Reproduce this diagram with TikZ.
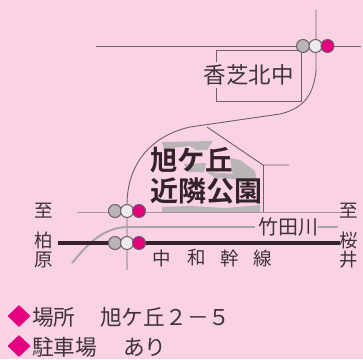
\documentclass[tikz,border=0pt]{standalone}
\usepackage{fontspec}
\setmainfont{Noto Sans CJK JP}
\newfontfamily\jpbold{Noto Sans CJK JP Bold}
\usetikzlibrary{shapes.geometric}
\definecolor{bgpink}{HTML}{F9D2E5}
\definecolor{ink}{HTML}{3F3238}
\definecolor{roadc}{HTML}{6E5F66}
\definecolor{softroad}{HTML}{A8939D}
\definecolor{rail}{HTML}{33222A}
\definecolor{magentaX}{HTML}{E4007F}
\definecolor{parkg}{HTML}{B9B5B7}
\definecolor{river}{HTML}{A9A5A7}
\tikzset{
  road/.style={draw=roadc,line width=0.9pt},
  softr/.style={draw=softroad,line width=1pt},
  lightA/.style={circle,draw=roadc,line width=1pt,fill=#1,minimum size=13pt,inner sep=0pt},
  lbl/.style={text=ink,inner sep=0pt,font=\fontsize{#1}{#1}\selectfont},
  lblb/.style={text=rail,inner sep=0pt,font=\jpbold\fontsize{#1}{#1}\selectfont},
  dia/.style={diamond,fill=magentaX,minimum width=23pt,minimum height=22pt,inner sep=0pt}
}
\begin{document}
\begin{tikzpicture}[x=1pt,y=-1pt]
\useasboundingbox (0,0) rectangle (363,359);
\fill[bgpink] (0,0) rectangle (363,359);
% park area (the parts seen round the lettering)
\fill[parkg] (162,142) -- (213,141) -- (207,150) -- (196,150) -- (190,146) -- (172,148) -- (164,151) -- cycle;
\fill[parkg] (230,158) -- (240,160) -- (255,171) -- (257,182) -- (240,183) -- (232,172) -- cycle;
\fill[parkg] (184,164) -- (206,163) -- (204,172) -- (188,172) -- cycle;
\fill[parkg] (207,172) -- (250,175) -- (256,181) -- (215,178) -- cycle;
\fill[parkg] (162,207) -- (190,206) -- (225,208) -- (260,205) -- (260,212) -- (162,212) -- cycle;
% coordinates
\coordinate (tw) at (96,46);
\coordinate (te) at (361,46);
\coordinate (tn) at (316,10);
\coordinate (bsw) at (127,270);
\coordinate (mw) at (77,212);
\coordinate (me) at (343,212);
\coordinate (rw) at (58,243);
\coordinate (re) at (340,243);
\coordinate (k) at (207,127);
\coordinate (pe) at (263,165);
\coordinate (pf) at (289,165);
\coordinate (ps) at (263,212);
\coordinate (rvw) at (72,263);
\coordinate (rve) at (255,227);
\coordinate (rve2) at (318,227);
\coordinate (rve3) at (338,227);
% roads
\draw[road] (tw) -- (te);
\draw[road] (tn) -- (316,70) .. controls (314,92) and (306,108) .. (280,114) -- (190,127) .. controls (150,136) and (127,165) .. (127,205) -- (bsw);
\draw[road] (k) -- (pe) -- (pf);
\draw[road] (pe) -- (ps);
% school box
\draw[road] (216.5,62) -- (216.5,50) -- (301,50) -- (301,101) -- (216.5,101) -- (216.5,88);
% middle
\draw[softr] (mw) -- (me);
% river
\draw[draw=river,line width=2pt] (rvw) .. controls (85,248) and (100,228) .. (127,227) -- (146,227);
\draw[draw=river,line width=1.2pt] (146,227) -- (rve);
\draw[draw=river,line width=1.2pt] (rve2) -- (rve3);
% railway
\draw[rail,line width=3.4pt] (rw) -- (re);
% lights
\node[lightA=parkg] (a1) at (303,46) {};
\node[lightA=white!85!gray] (a2) at (315.5,46) {};
\node[lightA=magentaX] (a3) at (327.5,46) {};
\node[lightA=parkg] (b1) at (115,211) {};
\node[lightA=white!85!gray] (b2) at (127,211) {};
\node[lightA=magentaX] (b3) at (139,211) {};
\node[lightA=parkg] (c1) at (115,243) {};
\node[lightA=white!85!gray] (c2) at (127,243) {};
\node[lightA=magentaX] (c3) at (139,243) {};
% labels
\node[lbl=22.5] (school) at (248.5,75) {香芝北中};
\node[lblb=27.5,anchor=west] (p1) at (150,160) {旭ケ丘};
\node[lblb=28,anchor=west] (p2) at (150,191) {近隣公園};
\node[lbl=18.5] (l1) at (44,211) {至};
\node[lbl=18.5] (l2) at (44,240) {柏};
\node[lbl=18.5] (l3) at (44,260) {原};
\node[lbl=18.5] (r1) at (349,211) {至};
\node[lbl=18.5] (r2) at (349,240) {桜};
\node[lbl=18.5] (r3) at (349,260) {井};
\node[lbl=20] (riv) at (288,227) {竹田川};
\node[lbl=18.5] (n1) at (162,258) {中};
\node[lbl=18.5] (n2) at (197,258) {和};
\node[lbl=18.5] (n3) at (230,258) {幹};
\node[lbl=18.5] (n4) at (263,258) {線};
% bottom
\node[dia] (d1) at (19,316) {};
\node[dia] (d2) at (19,346) {};
\node[lbl=21.7,anchor=west] (t1) at (32,317) {場所};
\node[lbl=21.7,anchor=west] (t2) at (100,317) {旭ケ丘２－５};
\node[lbl=21.7,anchor=west] (t3) at (32,347) {駐車場};
\node[lbl=21.7,anchor=west] (t4) at (123,347) {あり};
\end{tikzpicture}
\end{document}
